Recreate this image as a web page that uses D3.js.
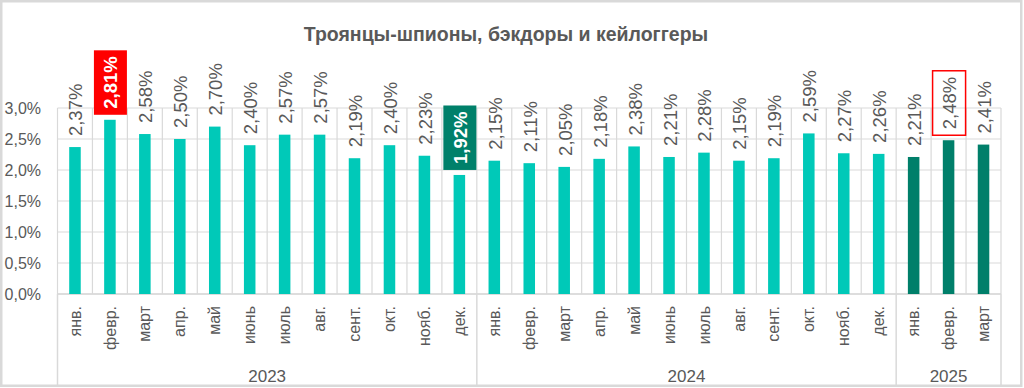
<!DOCTYPE html>
<html>
<head>
<meta charset="utf-8">
<script src="https://cdn.jsdelivr.net/npm/d3@7"></script>
<style>
  html, body { margin: 0; padding: 0; background: #fff; }
  svg { display: block; font-family: "Liberation Sans", Arial, sans-serif; }
</style>
</head>
<body>
<div id="chart"></div>
<script>
const title = "Троянцы-шпионы, бэкдоры и кейлоггеры";
const months = ["янв.", "февр.", "март", "апр.", "май", "июнь", "июль", "авг.", "сент.", "окт.", "нояб.", "дек."];
const years = ["2023", "2024", "2025"];
const values2023 = [2.37, 2.81, 2.58, 2.50, 2.70, 2.40, 2.57, 2.57, 2.19, 2.40, 2.23, 1.92];
const values2024 = [2.15, 2.11, 2.05, 2.18, 2.38, 2.21, 2.28, 2.15, 2.19, 2.59, 2.27, 2.26];
const values2025 = [2.21, 2.48, 2.41];
const yTicks = [0, 0.5, 1, 1.5, 2, 2.5, 3];
// callouts: position in the series -> kind of highlight
const callouts = [
  { idx: 1, kind: "red" },
  { idx: 11, kind: "green" },
  { idx: 25, kind: "outline" }
];

const width = 1024, height = 388;
const margin = { left: 57.5, right: 23, top: 108, bottom: 94 };

// flat series
const data = [];
[values2023, values2024, values2025].forEach((vals, g) => {
  vals.forEach((v, i) => {
    data.push({ key: data.length, year: years[g], month: months[i], value: v, group: g });
  });
});

const svg = d3.select("#chart").append("svg")
  .attr("width", width)
  .attr("height", height);

// outer frame
svg.append("rect")
  .attr("x", 1.25).attr("y", 1.25)
  .attr("width", 1020).attr("height", 384.5)
  .attr("fill", "#fff")
  .attr("stroke", "#d9d9d9")
  .attr("stroke-width", 2.5);

const x = d3.scaleBand()
  .domain(data.map(d => d.key))
  .range([margin.left, width - margin.right])
  .paddingInner(0.67)
  .paddingOuter(0.335);

const y = d3.scaleLinear()
  .domain([0, 3])
  .range([height - margin.bottom, margin.top]);

const step = x.step();
const x0 = margin.left, x1 = width - margin.right;
const yBase = y(0);

// horizontal grid
svg.append("g")
  .selectAll("line")
  .data(yTicks)
  .join("line")
  .attr("x1", x0).attr("x2", x1)
  .attr("y1", d => y(d)).attr("y2", d => y(d))
  .attr("stroke", "#d9d9d9")
  .attr("stroke-width", 1.2);

// vertical grid at category boundaries
svg.append("g")
  .selectAll("line")
  .data(d3.range(data.length + 1))
  .join("line")
  .attr("x1", i => x0 + i * step).attr("x2", i => x0 + i * step)
  .attr("y1", y(3)).attr("y2", yBase)
  .attr("stroke", "#d9d9d9")
  .attr("stroke-width", 1.2);

// group separators under the axis
const groupBounds = [0];
let acc = 0;
[values2023, values2024, values2025].forEach(v => { acc += v.length; groupBounds.push(acc); });
svg.append("g")
  .selectAll("line")
  .data(groupBounds)
  .join("line")
  .attr("x1", i => x0 + i * step).attr("x2", i => x0 + i * step)
  .attr("y1", yBase).attr("y2", 385)
  .attr("stroke", "#d9d9d9")
  .attr("stroke-width", 1.5);

// axis line
svg.append("line")
  .attr("x1", x0).attr("x2", x1)
  .attr("y1", yBase).attr("y2", yBase)
  .attr("stroke", "#d9d9d9")
  .attr("stroke-width", 1.5);

// y labels
const fmtTick = v => d3.format(".1f")(v).replace(".", ",") + "%";
svg.append("g")
  .selectAll("text")
  .data(yTicks)
  .join("text")
  .attr("x", 41)
  .attr("y", d => y(d))
  .attr("dy", "0.35em")
  .attr("text-anchor", "end")
  .attr("font-size", 16)
  .attr("fill", "#595959")
  .text(fmtTick);

// bars
svg.append("g")
  .selectAll("rect")
  .data(data)
  .join("rect")
  .attr("x", d => x(d.key))
  .attr("width", x.bandwidth())
  .attr("y", d => y(d.value))
  .attr("height", d => yBase - y(d.value))
  .attr("fill", d => d.group === 2 ? "#007f6a" : "#00c9b8");

// data labels
const fmtVal = v => v.toFixed(2).replace(".", ",") + "%";
const calloutOf = k => callouts.find(c => c.idx === k);
const labelGap = 11;
const labels = svg.append("g");

data.forEach(d => {
  const cx = x(d.key) + x.bandwidth() / 2;
  const top = y(d.value);
  const c = calloutOf(d.key);
  const t = labels.append("text")
    .attr("transform", `translate(${cx + 1},${top - labelGap}) rotate(-90)`)
    .attr("dy", "0.35em")
    .attr("text-anchor", "start")
    .attr("font-size", 18.5)
    .attr("fill", "#595959")
    .text(fmtVal(d.value));
  if (c) {
    if (c.kind !== "outline") t.attr("fill", "#fff").attr("font-weight", "bold");
    const len = t.node().getComputedTextLength();
    const box = labels.insert("rect", () => t.node())
      .attr("x", cx - 16)
      .attr("width", 33)
      .attr("y", top - labelGap - len - 6)
      .attr("height", len + 12);
    if (c.kind === "red") box.attr("fill", "#ff0000");
    else if (c.kind === "green") box.attr("fill", "#00806a");
    else box.attr("fill", "none").attr("stroke", "#ff0000").attr("stroke-width", 1.5);
  }
});

// month labels
svg.append("g")
  .selectAll("text")
  .data(data)
  .join("text")
  .attr("transform", d => `translate(${x(d.key) + x.bandwidth() / 2},${yBase + 12}) rotate(-90)`)
  .attr("dy", "0.35em")
  .attr("text-anchor", "end")
  .attr("font-size", 16)
  .attr("fill", "#595959")
  .text(d => d.month);

// year labels
svg.append("g")
  .selectAll("text")
  .data(years)
  .join("text")
  .attr("x", (d, g) => x0 + (groupBounds[g] + groupBounds[g + 1]) / 2 * step)
  .attr("y", 382)
  .attr("text-anchor", "middle")
  .attr("font-size", 17)
  .attr("fill", "#595959")
  .text(d => d);

// title
svg.append("text")
  .attr("x", 506)
  .attr("y", 41)
  .attr("text-anchor", "middle")
  .attr("font-size", 19.5)
  .attr("font-weight", "bold")
  .attr("fill", "#595959")
  .text(title);
</script>
</body>
</html>
